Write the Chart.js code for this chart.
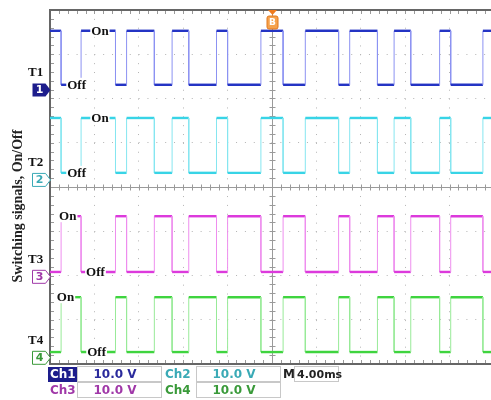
<!DOCTYPE html>
<html>
<head>
<meta charset="utf-8">
<script src="https://cdn.jsdelivr.net/npm/chart.js@4.4.1/dist/chart.umd.min.js"></script>
<style>
    html, body { margin: 0; padding: 0; background: #ffffff; overflow: hidden; }
    #wrap { width: 500px; height: 400px; }
</style>
</head>
<body>
<div id="wrap"><canvas id="scope" width="500" height="400"></canvas></div>
<script>
// Horizontal axis: time in ms (4.00 ms/div, trigger at 0)
// Vertical axis: screen divisions counted from the bottom edge (0..8)
const switchTimes = [-19.0, -17.2, -14.1, -13.1, -10.6, -9.0, -7.5, -5.0, -4.0, -1.0,
                      1.0, 3.0, 6.0, 7.0, 9.5, 11.0, 12.5, 15.1, 16.1, 19.0];
const channelNames = ['T1', 'T2', 'T3', 'T4'];
const startsOn = [true, true, false, false];
const onLevels = [7.53, 5.56, 3.34, 1.51];
const offLevels = [6.31, 4.32, 2.08, 0.27];
const groundLevels = [6.19, 4.16, 1.97, 0.14];
const onLabelTimes = [-15.5, -15.5, -18.4, -18.6];
const offLabelTimes = [-17.6, -17.6, -15.9, -15.8];
const readoutNames = ['Ch1', 'Ch2', 'Ch3', 'Ch4'];
const readoutScales = ['10.0 V', '10.0 V', '10.0 V', '10.0 V'];
const timeBase = '4.00ms';

// couleurs des traces (plat / fronts)
const flatColors = ['#2434c4', '#38d4e6', '#dc3adc', '#3fd43f'];
const edgeColors = ['#8c92f2', '#86e6f0', '#ee8eee', '#98ea98'];
const textColors = ['#2a2a9c', '#3aaab6', '#a038a8', '#3a9a3a'];

/**
 * Construit la suite de points d'un signal carré à partir des instants de commutation
 */
function buildTrace(i) {
    let on = startsOn[i];
    const level = () => (on ? onLevels[i] : offLevels[i]);
    const pts = [{ x: -20, y: level() }];
    switchTimes.forEach(t => {
        pts.push({ x: t, y: level() });
        on = !on;
        pts.push({ x: t, y: level() });
    });
    pts.push({ x: 20, y: level() });
    return pts;
}

const datasets = channelNames.map((name, i) => ({
    label: name,
    data: buildTrace(i),
    borderColor: flatColors[i],
    borderWidth: 2.4,
    pointRadius: 0,
    tension: 0,
    segment: {
        borderColor: c => (c.p0.parsed.x === c.p1.parsed.x ? edgeColors[i] : flatColors[i]),
        borderWidth: c => (c.p0.parsed.x === c.p1.parsed.x ? 1 : 2.4)
    }
}));

const scopeDecor = {
    id: 'scopeDecor',
    beforeDatasetsDraw(chart) {
        const { ctx, chartArea: a, scales } = chart;
        const xs = scales.x, ys = scales.y;
        const cx = Math.round(xs.getPixelForValue(0)) + 0.5;
        const cy = Math.round(ys.getPixelForValue(4)) + 0.5;
        ctx.save();
        // croix centrale avec graduations
        ctx.strokeStyle = '#9a9a9a';
        ctx.lineWidth = 1;
        ctx.beginPath();
        ctx.moveTo(cx, a.top); ctx.lineTo(cx, a.bottom);
        ctx.moveTo(a.left, cy); ctx.lineTo(a.right, cy);
        for (let v = 0; v <= 8.001; v += 0.2) {
            const y = Math.round(ys.getPixelForValue(v)) + 0.5;
            ctx.moveTo(cx - 3, y); ctx.lineTo(cx + 3, y);
            ctx.moveTo(a.left, y); ctx.lineTo(a.left + 4, y);
        }
        for (let t = -20; t <= 20.001; t += 0.8) {
            const x = Math.round(xs.getPixelForValue(t)) + 0.5;
            ctx.moveTo(x, cy - 3); ctx.lineTo(x, cy + 3);
            ctx.moveTo(x, a.top); ctx.lineTo(x, a.top + 4);
            ctx.moveTo(x, a.bottom); ctx.lineTo(x, a.bottom - 4);
        }
        ctx.stroke();
        // cadre
        ctx.strokeStyle = '#666666';
        ctx.lineWidth = 2;
        ctx.beginPath();
        ctx.moveTo(a.right + 10, a.top); ctx.lineTo(a.left, a.top);
        ctx.lineTo(a.left, a.bottom); ctx.lineTo(a.right + 10, a.bottom);
        ctx.stroke();
        ctx.restore();
    },
    afterDatasetsDraw(chart) {
        const { ctx, chartArea: a, scales } = chart;
        const xs = scales.x, ys = scales.y;
        ctx.save();

        // étiquettes On / Off sur fond blanc
        ctx.font = 'bold 13px "Liberation Serif"';
        ctx.textBaseline = 'middle';
        ctx.textAlign = 'center';
        const tag = (text, t, v) => {
            const x = xs.getPixelForValue(t);
            const y = ys.getPixelForValue(v);
            const w = ctx.measureText(text).width;
            ctx.fillStyle = '#ffffff';
            ctx.fillRect(x - w / 2 - 1, y - 7, w + 2, 13);
            ctx.fillStyle = '#111111';
            ctx.fillText(text, x, y + 0.5);
        };
        channelNames.forEach((name, i) => {
            tag('On', onLabelTimes[i], onLevels[i]);
            tag('Off', offLabelTimes[i], offLevels[i]);
        });

        // noms T1..T4 et repères de masse
        channelNames.forEach((name, i) => {
            const gy = ys.getPixelForValue(groundLevels[i]);
            ctx.fillStyle = '#111111';
            ctx.textAlign = 'left';
            ctx.fillText(name, 28, gy - 17);

            ctx.beginPath();
            ctx.moveTo(32.5, gy - 6.5);
            ctx.lineTo(45.5, gy - 6.5);
            ctx.lineTo(50.5, gy);
            ctx.lineTo(45.5, gy + 6.5);
            ctx.lineTo(32.5, gy + 6.5);
            ctx.closePath();
            if (i === 0) {
                ctx.fillStyle = '#1d1d8c';
                ctx.fill();
            } else {
                ctx.fillStyle = '#ffffff';
                ctx.fill();
                ctx.strokeStyle = textColors[i];
                ctx.lineWidth = 1;
                ctx.stroke();
            }
            ctx.font = 'bold 11px "DejaVu Sans"';
            ctx.textAlign = 'center';
            ctx.fillStyle = i === 0 ? '#ffffff' : textColors[i];
            ctx.fillText(String(i + 1), 39.5, gy + 0.5);
            ctx.font = 'bold 13px "Liberation Serif"';
        });

        // repère de déclenchement
        const tx = Math.round(xs.getPixelForValue(0)) + 0.5;
        ctx.fillStyle = '#ef7a1c';
        ctx.beginPath();
        ctx.moveTo(tx - 4.5, a.top); ctx.lineTo(tx + 4.5, a.top); ctx.lineTo(tx, a.top + 5);
        ctx.closePath();
        ctx.fill();
        ctx.fillStyle = '#f6a24c';
        ctx.strokeStyle = '#e2781c';
        ctx.beginPath();
        ctx.roundRect(tx - 5.5, a.top + 6, 11, 13, 2);
        ctx.fill();
        ctx.stroke();
        ctx.fillStyle = '#ffffff';
        ctx.font = 'bold 9px "DejaVu Sans"';
        ctx.fillText('B', tx, a.top + 13);

        // titre vertical
        ctx.save();
        ctx.translate(18, 206);
        ctx.rotate(-Math.PI / 2);
        ctx.fillStyle = '#222222';
        ctx.font = 'bold 14px "Liberation Serif"';
        ctx.textAlign = 'center';
        ctx.fillText('Switching signals, On/Off', 0, 0);
        ctx.restore();

        // afficheurs du bas
        ctx.font = 'bold 12px "DejaVu Sans"';
        ctx.textAlign = 'left';
        ctx.lineWidth = 1;
        ctx.strokeStyle = '#c8c8c8';
        const rows = [367, 383];
        readoutNames.forEach((name, i) => {
            const row = rows[Math.floor(i / 2)];
            const col = i % 2;
            const nx = col === 0 ? 50 : 165;
            const bx = col === 0 ? 77.5 : 196.5;
            if (i === 0) {
                ctx.fillStyle = '#1d1d8c';
                ctx.fillRect(48, row, 29, 15);
                ctx.fillStyle = '#ffffff';
            } else {
                ctx.fillStyle = textColors[i];
            }
            ctx.fillText(name, nx, row + 8);
            ctx.strokeRect(bx, row - 0.5, 84, 15);
            ctx.fillStyle = textColors[i];
            ctx.fillText(readoutScales[i], bx + 16, row + 8);
        });
        ctx.fillStyle = '#222222';
        ctx.fillText('M', 283, rows[0] + 8);
        ctx.strokeRect(294.5, rows[0] - 0.5, 44, 15);
        ctx.font = 'bold 11px "DejaVu Sans"';
        ctx.fillText(timeBase, 297, rows[0] + 8);

        ctx.restore();
    }
};

new Chart(document.getElementById('scope'), {
    type: 'line',
    data: { datasets: datasets },
    options: {
        responsive: false,
        animation: false,
        layout: { padding: { left: 50, top: 10, right: 6, bottom: 36 } },
        plugins: {
            legend: { display: false },
            tooltip: { enabled: false }
        },
        scales: {
            x: {
                type: 'linear',
                min: -20,
                max: 20,
                ticks: { display: false, stepSize: 4 },
                grid: { color: '#b4b4b4', lineWidth: 1, drawTicks: false },
                border: { display: false, dash: [1, 7.86] }
            },
            y: {
                type: 'linear',
                min: 0,
                max: 8,
                ticks: { display: false, stepSize: 1 },
                grid: { color: '#b4b4b4', lineWidth: 1, drawTicks: false },
                border: { display: false, dash: [1, 7.86] }
            }
        }
    },
    plugins: [scopeDecor]
});
</script>
</body>
</html>
